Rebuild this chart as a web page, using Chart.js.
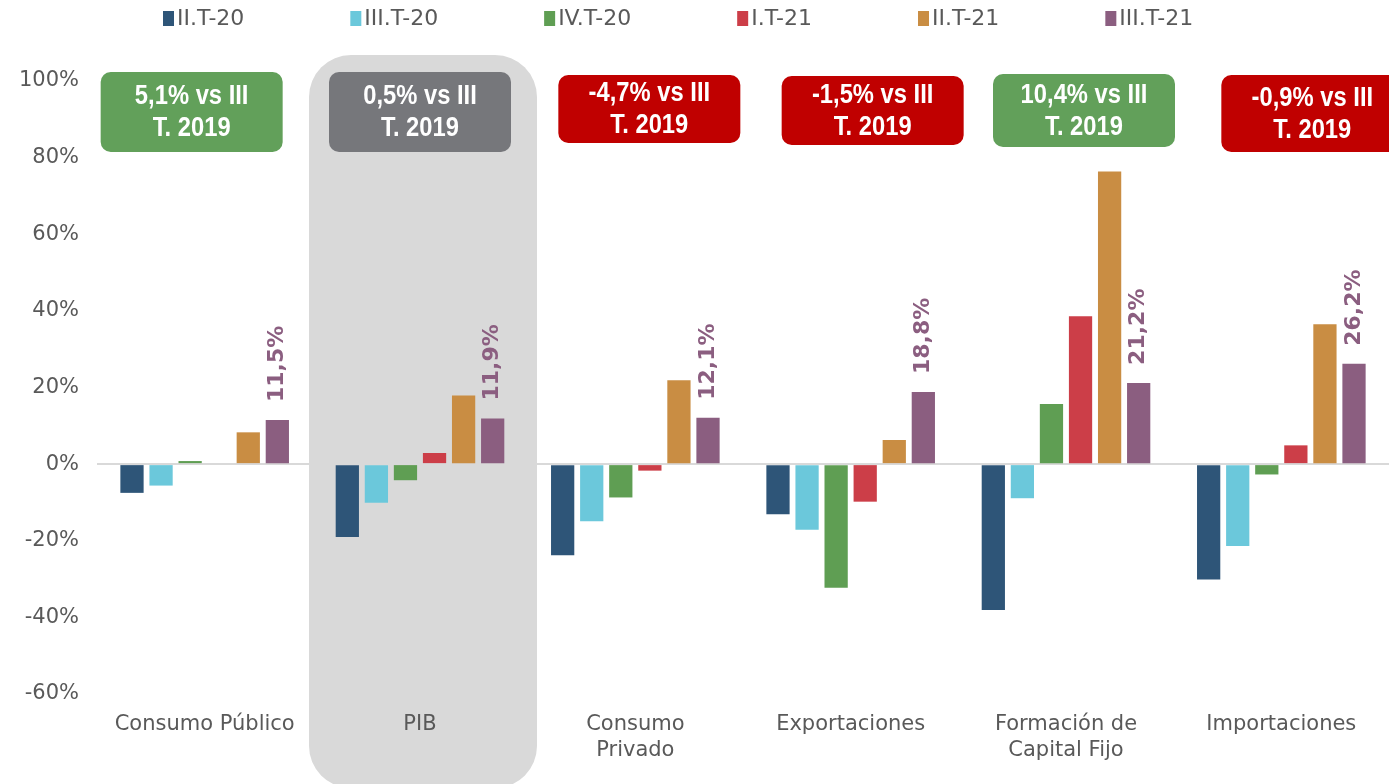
<!DOCTYPE html>
<html>
<head>
<meta charset="utf-8">
<script src="https://cdn.jsdelivr.net/npm/chart.js@4.4.0/dist/chart.umd.min.js"></script>
<style>
  html, body { margin: 0; padding: 0; background: #ffffff; }
  #wrap { width: 1389px; height: 784px; }
</style>
</head>
<body>
<div id="wrap"><canvas id="chart" width="1389" height="784"></canvas></div>
<script>
// Data (variación interanual, %)
const categories = ['Consumo Público', 'PIB', ['Consumo', 'Privado'], 'Exportaciones', ['Formación de', 'Capital Fijo'], 'Importaciones'];
const seriesLabels = ['II.T-20', 'III.T-20', 'IV.T-20', 'I.T-21', 'II.T-21', 'III.T-21'];
const q2t20 = [-7.5, -19.0, -23.8, -13.1, -38.1, -30.1];
const q3t20 = [-5.6, -10.1, -14.9, -17.1, -8.9, -21.4];
const q4t20 = [0.8, -4.2, -8.7, -32.3, 15.7, -2.7];
const q1t21 = [0, 2.9, -1.7, -9.8, 38.6, 4.9];
const q2t21 = [8.3, 17.9, 21.9, 6.3, 76.4, 36.5];
const q3t21 = [11.5, 11.9, 12.1, 18.8, 21.2, 26.2];
const seriesColors = ['#2e5578', '#6bc8db', '#5f9e53', '#cc3e48', '#c98d43', '#8b5e80'];
const yMin = -60, yMax = 100, yStep = 20;

// boxes above each group: comparison vs III T. 2019
const boxTexts = [
  ['5,1% vs III', 'T. 2019'],
  ['0,5% vs III', 'T. 2019'],
  ['-4,7% vs III', 'T. 2019'],
  ['-1,5% vs III', 'T. 2019'],
  ['10,4% vs III', 'T. 2019'],
  ['-0,9% vs III', 'T. 2019']
];
const boxColors = ['#62a05a', '#76777b', '#c00000', '#c00000', '#62a05a', '#c00000'];
const highlightIndex = 1; // PIB

const textColor = '#595959';
const axisFont = 'DejaVu Sans, Verdana, sans-serif';

const allSeries = [q2t20, q3t20, q4t20, q1t21, q2t21, q3t21];

// Grey rounded panel behind PIB
const highlightPanel = {
  id: 'highlightPanel',
  beforeDraw(chart) {
    const x = chart.scales.x;
    const cx = x.getPixelForValue(highlightIndex);
    const ctx = chart.ctx;
    ctx.save();
    ctx.fillStyle = '#d9d9d9';
    ctx.beginPath();
    ctx.roundRect(cx - 111, 55, 228, 733, 42);
    ctx.fill();
    ctx.restore();
  }
};

// Coloured comparison boxes
const compareBoxes = {
  id: 'compareBoxes',
  afterDraw(chart) {
    const x = chart.scales.x;
    const ctx = chart.ctx;
    const dx = [-13, 0, 14, 22, 18, 31];
    const top = [72, 72, 75, 76, 74, 75];
    const h = [80, 80, 68, 69, 73, 77];
    const w = 182;
    ctx.save();
    boxTexts.forEach((lines, i) => {
      const cx = x.getPixelForValue(i) + dx[i];
      ctx.fillStyle = boxColors[i];
      ctx.beginPath();
      ctx.roundRect(cx - w / 2, top[i], w, h[i], 10);
      ctx.fill();
      ctx.fillStyle = '#ffffff';
      ctx.font = 'bold 27px "Liberation Sans", Arial, sans-serif';
      ctx.textAlign = 'center';
      ctx.textBaseline = 'middle';
      const cy = top[i] + h[i] / 2;
      // narrow the glyphs a bit (the original uses a condensed face)
      ctx.save();
      ctx.translate(cx, cy);
      ctx.scale(0.88, 1);
      ctx.fillText(lines[0], 0, -15);
      ctx.fillText(lines[1], 0, 17);
      ctx.restore();
    });
    ctx.restore();
  }
};

// Vertical value labels on the last series
const lastLabels = {
  id: 'lastLabels',
  afterDatasetsDraw(chart) {
    const idx = chart.data.datasets.length - 1;
    const meta = chart.getDatasetMeta(idx);
    const values = chart.data.datasets[idx].data;
    const ctx = chart.ctx;
    ctx.save();
    ctx.fillStyle = seriesColors[idx];
    ctx.font = 'bold 22px ' + axisFont;
    ctx.textAlign = 'left';
    ctx.textBaseline = 'middle';
    meta.data.forEach((bar, i) => {
      ctx.save();
      ctx.translate(bar.x, bar.y - 18);
      ctx.rotate(-Math.PI / 2);
      ctx.fillText(values[i].toFixed(1).replace('.', ',') + '%', 0, 0);
      ctx.restore();
    });
    ctx.restore();
  }
};

// Legend drawn by hand so the spacing matches
const topLegend = {
  id: 'topLegend',
  afterDraw(chart) {
    const ctx = chart.ctx;
    ctx.save();
    ctx.font = '22px ' + axisFont;
    ctx.textBaseline = 'middle';
    ctx.textAlign = 'left';
    let xPos = 163;
    const y = 19;
    chart.data.datasets.forEach(ds => {
      ctx.fillStyle = ds.backgroundColor;
      ctx.fillRect(xPos, y - 8, 11, 15);
      ctx.fillStyle = textColor;
      ctx.fillText(ds.label, xPos + 14, y);
      xPos += 14 + ctx.measureText(ds.label).width + 106;
    });
    ctx.restore();
  }
};

const datasets = seriesLabels.map((label, i) => ({
  label,
  data: allSeries[i],
  backgroundColor: seriesColors[i],
  borderWidth: 0,
  barPercentage: 0.8,
  categoryPercentage: 0.81
}));

new Chart(document.getElementById('chart').getContext('2d'), {
  type: 'bar',
  data: { labels: categories, datasets },
  options: {
    responsive: false,
    animation: false,
    devicePixelRatio: 1,
    layout: { padding: { top: 81, left: 0, right: 0, bottom: 0 } },
    plugins: {
      legend: { display: false },
      tooltip: { enabled: false }
    },
    scales: {
      x: {
        grid: { display: false },
        border: { display: false },
        ticks: {
          color: textColor,
          font: { family: axisFont, size: 21, lineHeight: 1.25 },
          padding: 9,
          maxRotation: 0,
          autoSkip: false
        },
        afterFit(scale) { scale.height = 90; }
      },
      y: {
        min: yMin,
        max: yMax,
        border: { display: false },
        grid: {
          drawTicks: false,
          lineWidth: 2,
          color: ctx => ctx.tick && ctx.tick.value === 0 ? '#d9d9d9' : 'rgba(0,0,0,0)'
        },
        ticks: {
          stepSize: yStep,
          color: textColor,
          font: { family: axisFont, size: 21 },
          padding: 18,
          callback: v => v + '%'
        },
        afterFit(scale) { scale.width = 97; }
      }
    }
  },
  plugins: [highlightPanel, lastLabels, compareBoxes, topLegend]
});
</script>
</body>
</html>
